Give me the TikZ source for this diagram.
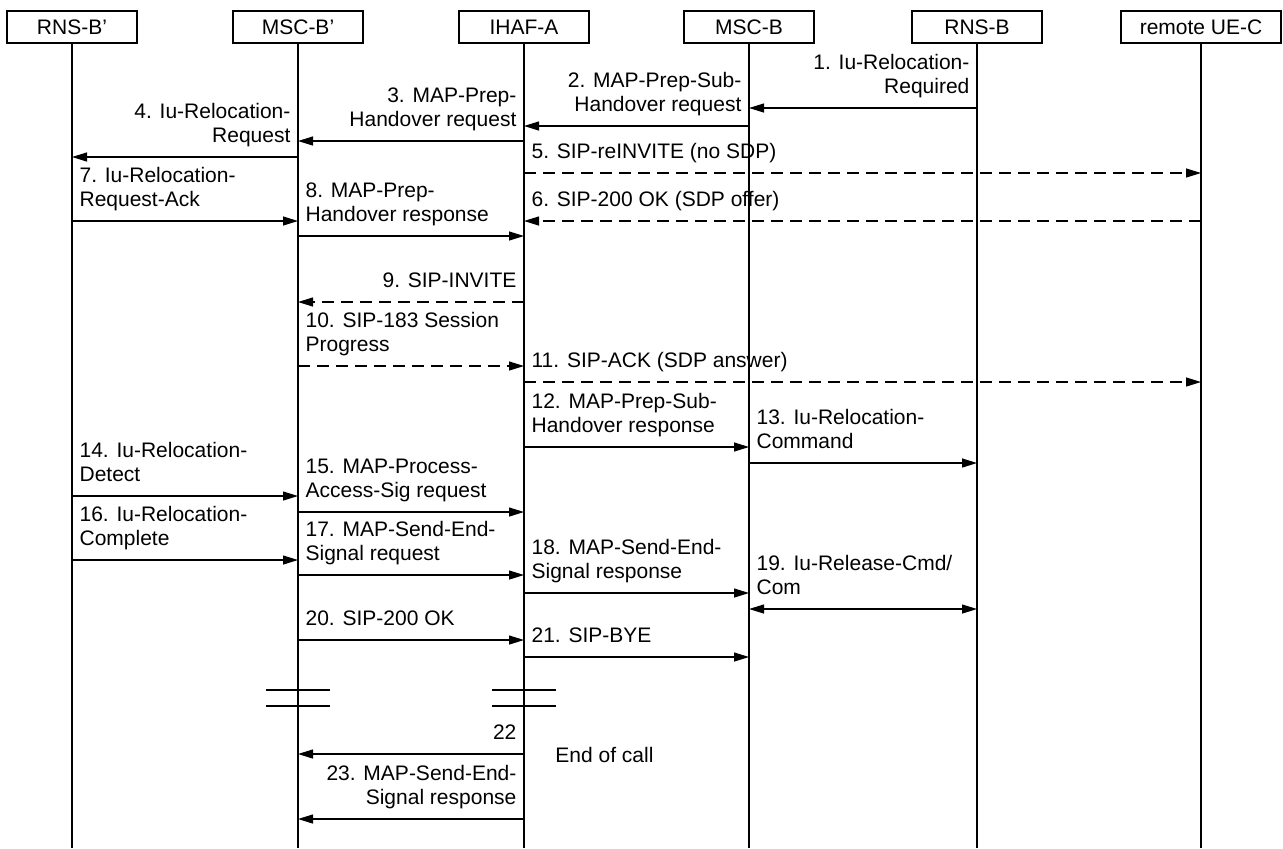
\documentclass[tikz,border=0pt]{standalone}
\usepackage{fontspec}
\setmainfont{Liberation Sans}
\usetikzlibrary{arrows.meta}
\tikzset{
  entity/.style={draw, line width=0.6pt, minimum width=65pt, minimum height=16pt, inner sep=0pt},
  life/.style={line width=0.6pt},
  msg/.style={line width=0.6pt, -{Triangle[length=7.5pt,width=4.5pt]}},
  sip/.style={msg, dash pattern=on 6pt off 3.5pt},
  both/.style={line width=0.6pt, {Triangle[length=7.5pt,width=4.5pt]}-{Triangle[length=7.5pt,width=4.5pt]}},
  lbl/.style={inner sep=0pt, text depth=0pt},
  lblleft/.style={lbl, align=left, anchor=south west, xshift=3.5pt, yshift=7pt},
  lblright/.style={lbl, align=right, anchor=south east, xshift=-3.5pt, yshift=7pt},
}
\begin{document}
\begin{tikzpicture}[x=0.5pt, y=-0.5pt, font=\fontsize{10.5}{12}\selectfont]
        \useasboundingbox (0,0) rectangle (1283,848);
        %% Entities
        \node[entity] (rnsbp) at (72,27)   {RNS-B’};
        \node[entity] (mscbp) at (298,27)  {MSC-B’};
        \node[entity] (ihafa) at (524,27)  {IHAF-A};
        \node[entity] (mscb)  at (749,27)  {MSC-B};
        \node[entity] (rnsb)  at (977,27)  {RNS-B};
        \node[entity, minimum width=80pt] (uec) at (1201,27) {remote UE-C};
        %% Lifelines
        \foreach \n in {rnsbp,mscbp,ihafa,mscb,rnsb,uec}
            \draw[life] (\n.south) -- (\n |- 0,848);
        %% Breaks
        \draw[life] (mscbp |- 0,690) ++(-32,0) -- ++(64,0);
        \draw[life] (mscbp |- 0,706) ++(-32,0) -- ++(64,0);
        \draw[life] (ihafa |- 0,690) ++(-32,0) -- ++(64,0);
        \draw[life] (ihafa |- 0,706) ++(-32,0) -- ++(64,0);
        %% Messages
        \draw[msg] (rnsb |- 0,108) -- (mscb |- 0,108) node[lblright,pos=0] (l1) {1. Iu-Relocation-\\Required};
        \draw[msg] (mscb |- 0,126) -- (ihafa |- 0,126) node[lblright,pos=0] (l2) {2. MAP-Prep-Sub-\\Handover request};
        \draw[msg] (ihafa |- 0,141) -- (mscbp |- 0,141) node[lblright,pos=0] (l3) {3. MAP-Prep-\\Handover request};
        \draw[msg] (mscbp |- 0,157) -- (rnsbp |- 0,157) node[lblright,pos=0] (l4) {4. Iu-Relocation-\\Request};
        \draw[sip] (ihafa |- 0,173) -- (uec |- 0,173) node[lblleft,pos=0] (l5) {5. SIP-reINVITE (no SDP)};
        \draw[sip] (uec |- 0,221) -- (ihafa |- 0,221) node[lblleft,pos=1] (l6) {6. SIP-200 OK (SDP offer)};
        \draw[msg] (rnsbp |- 0,221) -- (mscbp |- 0,221) node[lblleft,pos=0] (l7) {7. Iu-Relocation-\\Request-Ack};
        \draw[msg] (mscbp |- 0,236) -- (ihafa |- 0,236) node[lblleft,pos=0] (l8) {8. MAP-Prep-\\Handover response};
        \draw[sip] (ihafa |- 0,302) -- (mscbp |- 0,302) node[lblright,pos=0] (l9) {9. SIP-INVITE};
        \draw[sip] (mscbp |- 0,366) -- (ihafa |- 0,366) node[lblleft,pos=0] (l10) {10. SIP-183 Session\\Progress};
        \draw[sip] (ihafa |- 0,382) -- (uec |- 0,382) node[lblleft,pos=0] (l11) {11. SIP-ACK (SDP answer)};
        \draw[msg] (ihafa |- 0,447) -- (mscb |- 0,447) node[lblleft,pos=0] (l12) {12. MAP-Prep-Sub-\\Handover response};
        \draw[msg] (mscb |- 0,463) -- (rnsb |- 0,463) node[lblleft,pos=0] (l13) {13. Iu-Relocation-\\Command};
        \draw[msg] (rnsbp |- 0,496) -- (mscbp |- 0,496) node[lblleft,pos=0] (l14) {14. Iu-Relocation-\\Detect};
        \draw[msg] (mscbp |- 0,512) -- (ihafa |- 0,512) node[lblleft,pos=0] (l15) {15. MAP-Process-\\Access-Sig request};
        \draw[msg] (rnsbp |- 0,560) -- (mscbp |- 0,560) node[lblleft,pos=0] (l16) {16. Iu-Relocation-\\Complete};
        \draw[msg] (mscbp |- 0,575) -- (ihafa |- 0,575) node[lblleft,pos=0] (l17) {17. MAP-Send-End-\\Signal request};
        \draw[msg] (ihafa |- 0,593) -- (mscb |- 0,593) node[lblleft,pos=0] (l18) {18. MAP-Send-End-\\Signal response};
        \draw[both] (mscb |- 0,609) -- (rnsb |- 0,609) node[lblleft,pos=0] (l19) {19. Iu-Release-Cmd/\\Com};
        \draw[msg] (mscbp |- 0,640) -- (ihafa |- 0,640) node[lblleft,pos=0] (l20) {20. SIP-200 OK};
        \draw[msg] (ihafa |- 0,657) -- (mscb |- 0,657) node[lblleft,pos=0] (l21) {21. SIP-BYE};
        \draw[msg] (ihafa |- 0,754) -- (mscbp |- 0,754) node[lblright,pos=0] (l22) {22};
        \draw[msg] (ihafa |- 0,819) -- (mscbp |- 0,819) node[lblright,pos=0] (l23) {23. MAP-Send-End-\\Signal response};
        %% Note
        \node[lbl, anchor=base west] (eoc) at (555,762) {End of call};
    \end{tikzpicture}
\end{document}
